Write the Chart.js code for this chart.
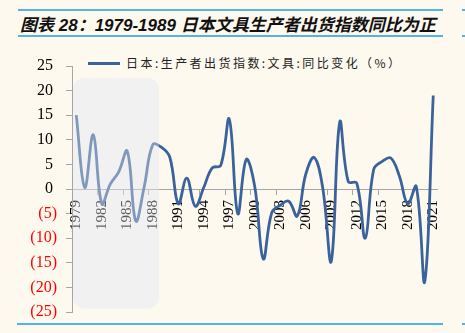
<!DOCTYPE html>
<html>
<head>
<meta charset="utf-8">
<script src="https://cdn.jsdelivr.net/npm/chart.js@4.4.1/dist/chart.umd.min.js"></script>
<style>
  html, body { margin: 0; padding: 0; background: #fdf9ef; }
  #wrap { position: relative; width: 465px; height: 333px; overflow: hidden; }
  #chart { position: absolute; left: 0; top: 0; }
  .rule { position: absolute; height: 2px; background: #4db5e8; }
  #title {
    position: absolute; left: 19px; top: 11px; width: 424px; height: 24px;
    line-height: 24px; padding-left: 1px; color: #111;
    font: italic bold 17px 'Liberation Sans', 'Noto Sans CJK SC', sans-serif;
    white-space: nowrap;
  }
  #legend {
    position: absolute; left: 88px; top: 54px; height: 18px; line-height: 18px;
    white-space: nowrap; color: #222;
    font: 12px 'Noto Sans CJK SC', sans-serif; letter-spacing: 2.45px;
  }
  #legend .swatch {
    display: inline-block; width: 32px; height: 3px; vertical-align: middle;
    margin-right: 6px; position: relative; top: -1px;
  }
</style>
</head>
<body>
<div id="wrap">
  <div class="rule" style="left:18px; top:9px; width:425px"></div>
  <div class="rule" style="left:462px; top:9px; width:3px"></div>
  <div class="rule" style="left:18px; top:35px; width:425px"></div>
  <div class="rule" style="left:462px; top:35px; width:3px"></div>
  <div class="rule" style="left:17px; top:323px; width:426px"></div>
  <div class="rule" style="left:462px; top:323px; width:3px"></div>
  <div id="title">图表 28：1979-1989 日本文具生产者出货指数同比为正</div>
  <div id="legend"></div>
  <canvas id="chart" width="465" height="333"></canvas>
</div>
<script>
const years = [
  '1979', '1980', '1981', '1982', '1983', '1984', '1985', '1986', '1987', '1988',
  '1989', '1990', '1991', '1992', '1993', '1994', '1995', '1996', '1997', '1998',
  '1999', '2000', '2001', '2002', '2003', '2004', '2005', '2006', '2007', '2008',
  '2009', '2010', '2011', '2012', '2013', '2014', '2015', '2016', '2017', '2018',
  '2019', '2020', '2021',
]

// 日本:生产者出货指数:文具:同比变化(%)
const shipmentYoY = [
  15, 0.3, 11, -3, 1, 3.5, 7.7, -6.5, 0.5, 9,
  8.5, 6.5, -3, 2.2, -3.5, 0.3, 4.3, 4.8, 14.2, -5,
  6, 0.5, -14.2, -4.8, -3.3, -2.5, -5.5, 3, 6.4, 0.2,
  -14.7, 13.6, 1.5, 1.2, -10, 4, 5.6, 6.3, 2.7, -3,
  0.5, -18.8, 19,
]

const seriesLabel = '日本:生产者出货指数:文具:同比变化（%）'
const yTicks = { min: -25, max: 25, step: 5 }

// shaded box over the 1979-1988 stretch
const highlight = { from: '1979', to: '1988', top: 22.5, bottom: -24.3 }

const lineColor = '#3a629b'
const axisColor = '#a6a6a6'

const boxPath = (chart) => {
  const xs = chart.scales.x
  const ys = chart.scales.y
  const band = xs.width / years.length
  const left = xs.getPixelForValue(years.indexOf(highlight.from)) - band / 2 + 1
  const right = xs.getPixelForValue(years.indexOf(highlight.to)) + band / 2 + 2
  const top = ys.getPixelForValue(highlight.top)
  const bottom = ys.getPixelForValue(highlight.bottom)
  const ctx = chart.ctx
  ctx.beginPath()
  ctx.roundRect(left, top, right - left, bottom - top, 11)
}

const highlightBox = {
  id: 'highlightBox',
  beforeDraw(chart) {
    const ctx = chart.ctx
    ctx.save()
    boxPath(chart)
    ctx.fillStyle = '#f1f1f1'
    ctx.fill()
    ctx.restore()
  },
  afterDraw(chart) {
    const ctx = chart.ctx
    ctx.save()
    boxPath(chart)
    ctx.fillStyle = 'rgba(242, 242, 242, 0.38)'
    ctx.fill()
    ctx.restore()
  },
}

const chartRef = document.getElementById('chart').getContext('2d')

const chart = new Chart(chartRef, {
  type: 'line',
  data: {
    labels: years,
    datasets: [
      {
        label: seriesLabel,
        data: shipmentYoY,
        borderColor: lineColor,
        borderWidth: 2.8,
        pointRadius: 0,
        tension: 0.4,
        fill: false,
      },
    ],
  },
  options: {
    responsive: false,
    animation: false,
    layout: {
      padding: { left: 0, top: 66, right: 27.5, bottom: 21 },
    },
    plugins: {
      legend: { display: false },
      tooltip: { enabled: false },
    },
    scales: {
      x: {
        type: 'category',
        position: { y: 0 },
        offset: true,
        border: { color: axisColor, width: 1 },
        grid: {
          offset: true,
          drawOnChartArea: false,
          tickLength: 5,
          color: (c) => (c.index % 3 === 0 ? axisColor : 'rgba(0,0,0,0)'),
        },
        ticks: {
          autoSkip: false,
          minRotation: 90,
          maxRotation: 90,
          padding: 6,
          color: '#000',
          font: { family: "'Liberation Serif', serif", size: 15 },
          callback: (val, i) => (i % 3 === 0 ? years[i] : ''),
        },
      },
      y: {
        min: yTicks.min,
        max: yTicks.max,
        afterFit: (scale) => {
          scale.width = 72
        },
        border: { color: axisColor, width: 1 },
        grid: {
          drawOnChartArea: false,
          tickLength: 6,
          color: axisColor,
        },
        ticks: {
          stepSize: yTicks.step,
          padding: 9,
          font: { family: "'Liberation Serif', serif", size: 16 },
          color: (c) => (c.tick.value < 0 ? '#ff0000' : '#000'),
          callback: (v) => (v < 0 ? '(' + -v + ')' : v + ' '),
        },
      },
    },
  },
  plugins: [highlightBox],
})

// legend row built from the dataset
const legendEl = document.getElementById('legend')
chart.data.datasets.forEach((ds) => {
  const sw = document.createElement('span')
  sw.className = 'swatch'
  sw.style.background = ds.borderColor
  legendEl.appendChild(sw)
  legendEl.appendChild(document.createTextNode(ds.label))
})
</script>
</body>
</html>
